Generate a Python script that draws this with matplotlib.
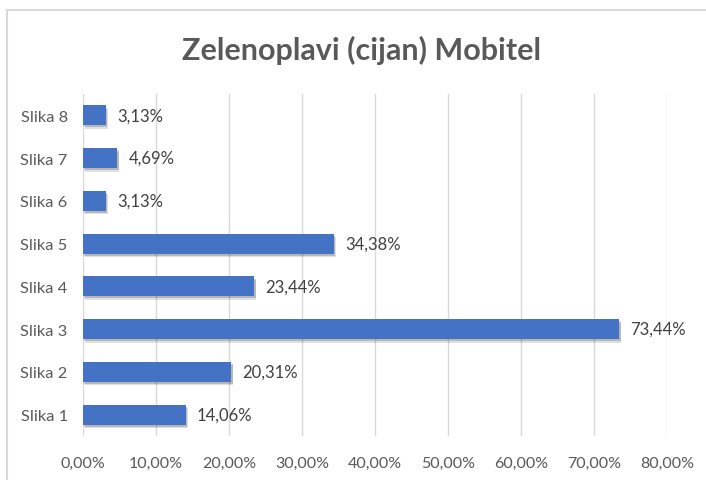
import matplotlib.pyplot as plt
import matplotlib.patheffects as pe
from matplotlib.patches import Rectangle
from matplotlib.ticker import FuncFormatter

categories = ['Slika 1', 'Slika 2', 'Slika 3', 'Slika 4',
              'Slika 5', 'Slika 6', 'Slika 7', 'Slika 8']
values = [14.06, 20.31, 73.44, 23.44, 34.38, 3.13, 4.69, 3.13]
x_ticks = [0, 10, 20, 30, 40, 50, 60, 70, 80]
title = 'Zelenoplavi (cijan) Mobitel'

plt.rcParams['font.family'] = ['Lato', 'DejaVu Sans']


def pct(v):
    return f'{v:.2f}'.replace('.', ',') + '%'


fig = plt.figure(figsize=(7.06, 4.81), dpi=100)
fig.patch.set_facecolor('white')

# chart area border (runs off the right/bottom edge)
fig.patches.append(Rectangle((7 / 706, -0.2), 1.2, 1.2 - 11 / 481,
                             transform=fig.transFigure, fill=False,
                             edgecolor='#D9D9D9', lw=1.5))

ax = fig.add_axes([83 / 706, 1 - 437 / 481, 584 / 706, 342 / 481])

ypos = range(len(categories))
bars = ax.barh(ypos, values, height=0.465, color='#4472C4', zorder=3)
# soft drop shadow under each bar
for b in bars:
    b.set_path_effects([
        pe.SimplePatchShadow(offset=(1.5, -2.5), alpha=0.12, shadow_rgbFace='#000000'),
        pe.SimplePatchShadow(offset=(1, -1.5), alpha=0.18, shadow_rgbFace='#000000'),
        pe.Normal()])

for y, v in zip(ypos, values):
    ax.annotate(pct(v), (v, y), xytext=(8, 0), textcoords='offset points',
                va='center', ha='left', fontsize=12, color='#404040')

ax.set_xlim(0, 80)
ax.set_ylim(-0.5, len(categories) - 0.5)
ax.set_xticks(x_ticks)
ax.xaxis.set_major_formatter(FuncFormatter(lambda v, _: pct(v)))
ax.set_yticks(list(ypos))
ax.set_yticklabels(categories)
ax.tick_params(axis='x', length=0, pad=14, labelsize=11.5, labelcolor='#595959')
ax.tick_params(axis='y', length=0, pad=11, labelsize=11.8, labelcolor='#595959')

ax.grid(axis='x', color='#D9D9D9', lw=1, zorder=0)
for s in ax.spines.values():
    s.set_visible(False)

fig.text(361 / 706, 1 - 50 / 481, title, ha='center', va='center',
         fontsize=22, fontweight='bold', color='#595959')

fig.savefig('out.png', dpi=100)
